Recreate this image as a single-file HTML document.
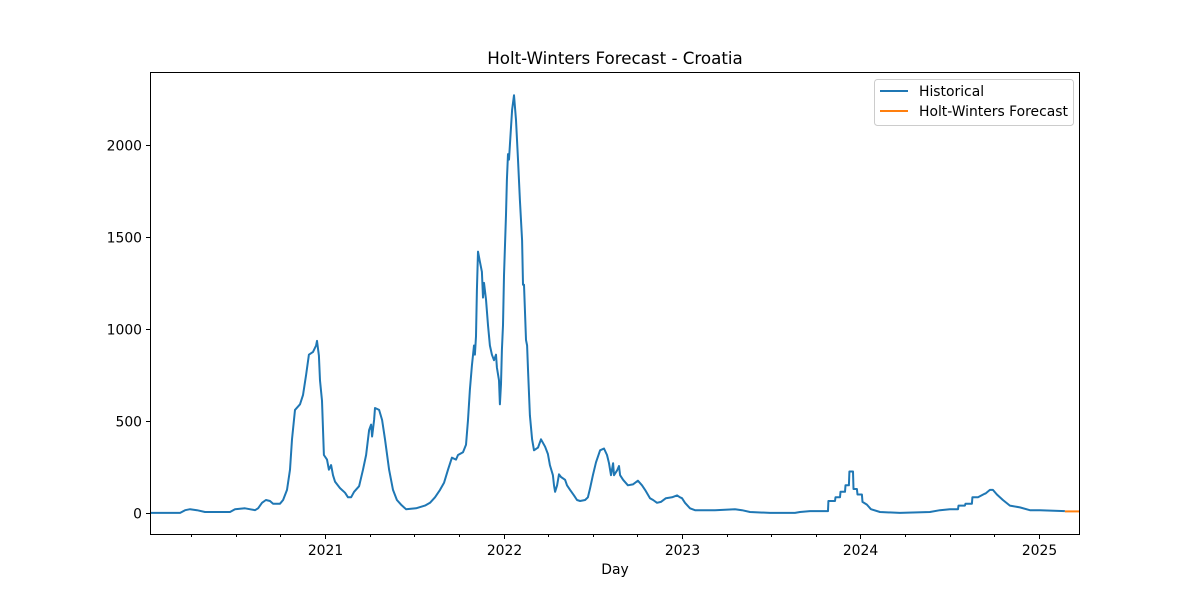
<!DOCTYPE html>
<html><head><meta charset="utf-8"><style>
body{margin:0;background:#fff;}
svg{display:block;font-family:"DejaVu Sans","Liberation Sans",sans-serif;}
</style></head><body>
<svg id="chart" width="1200" height="600">
<text x="615" y="64" text-anchor="middle" font-size="16.7">Holt-Winters Forecast - Croatia</text>
<text x="615" y="574" text-anchor="middle" font-size="13.9">Day</text>
<g id="axes"></g>
<g id="marks"></g>
<rect x="150.5" y="72.5" width="929" height="462" fill="none" stroke="#000" stroke-width="1"/>
<g>
<rect x="874.5" y="79.5" width="199" height="46" rx="3" fill="#fff" stroke="#ccc"/>
<line x1="880" y1="91" x2="908" y2="91" stroke="#1f77b4" stroke-width="2"/>
<text x="919" y="96" font-size="13.9">Historical</text>
<line x1="880" y1="111" x2="908" y2="111" stroke="#ff7f0e" stroke-width="2"/>
<text x="919" y="116" font-size="13.9">Holt-Winters Forecast</text>
</g>
</svg>
<script>
const histDates=[2020.020,2020.188,2020.216,2020.244,2020.283,2020.328,2020.468,2020.496,2020.552,2020.608,2020.625,2020.647,2020.669,2020.692,2020.709,2020.748,2020.765,2020.787,2020.804,2020.815,2020.832,2020.860,2020.877,2020.894,2020.910,2020.933,2020.950,2020.955,2020.966,2020.972,2020.983,2020.994,2021.011,2021.022,2021.034,2021.045,2021.056,2021.084,2021.112,2021.129,2021.146,2021.163,2021.191,2021.213,2021.230,2021.247,2021.258,2021.264,2021.275,2021.280,2021.303,2021.320,2021.336,2021.359,2021.381,2021.403,2021.426,2021.454,2021.510,2021.560,2021.588,2021.616,2021.644,2021.667,2021.689,2021.711,2021.734,2021.745,2021.773,2021.790,2021.801,2021.812,2021.823,2021.835,2021.840,2021.846,2021.851,2021.857,2021.868,2021.879,2021.885,2021.891,2021.902,2021.913,2021.924,2021.935,2021.947,2021.958,2021.963,2021.975,2021.980,2021.986,2021.991,2021.997,2022.003,2022.014,2022.019,2022.025,2022.031,2022.036,2022.048,2022.059,2022.070,2022.081,2022.092,2022.104,2022.109,2022.115,2022.126,2022.132,2022.137,2022.148,2022.160,2022.171,2022.193,2022.210,2022.233,2022.249,2022.260,2022.277,2022.283,2022.289,2022.300,2022.311,2022.322,2022.345,2022.356,2022.373,2022.395,2022.412,2022.429,2022.457,2022.473,2022.485,2022.501,2022.518,2022.541,2022.563,2022.580,2022.591,2022.602,2022.614,2022.619,2022.636,2022.647,2022.653,2022.670,2022.697,2022.725,2022.753,2022.776,2022.793,2022.821,2022.838,2022.860,2022.882,2022.910,2022.944,2022.972,2022.989,2023.000,2023.017,2023.045,2023.073,2023.185,2023.297,2023.336,2023.381,2023.493,2023.633,2023.661,2023.717,2023.801,2023.818,2023.820,2023.857,2023.860,2023.885,2023.888,2023.913,2023.916,2023.935,2023.938,2023.958,2023.961,2023.980,2023.983,2024.008,2024.011,2024.036,2024.058,2024.109,2024.221,2024.389,2024.445,2024.501,2024.546,2024.549,2024.585,2024.588,2024.624,2024.627,2024.658,2024.697,2024.700,2024.725,2024.742,2024.764,2024.798,2024.837,2024.893,2024.949,2025.005,2025.145];
const histValues=[0,0,15,20,15,5,5,20,25,15,25,55,70,65,50,50,70,125,235,400,560,590,640,750,860,875,910,935,855,720,610,315,290,235,260,205,170,135,110,85,85,115,145,235,315,450,480,415,505,570,560,505,400,235,125,70,45,20,25,40,55,85,125,165,235,300,290,315,330,370,505,670,800,910,860,960,1210,1420,1365,1310,1170,1250,1160,1020,910,860,830,860,790,720,590,700,885,1020,1290,1620,1810,1950,1920,2000,2190,2270,2135,1920,1700,1480,1240,1240,940,910,780,530,400,340,355,400,360,320,260,205,150,115,150,210,195,180,150,125,95,70,65,70,85,135,205,275,340,350,315,270,205,270,205,230,255,205,180,150,155,175,150,125,80,70,55,60,80,85,95,85,80,55,25,15,15,20,15,5,0,0,5,10,10,10,65,65,85,85,115,115,150,150,225,225,130,130,100,100,60,45,20,5,0,5,15,20,20,40,40,50,50,85,85,105,105,125,125,100,70,40,30,15,15,10,8];
const fcDates=[2025.145,2025.229];
const fcValues=[8,8];
const xTicks=[2021,2022,2023,2024,2025];
const yTicks=[0,500,1000,1500,2000];

const X0=150,X1=1080,Y0=535,Y1=72;
const xMin=2020.0196,xMax=2025.2297,yMin=-120,yMax=2396;
const sx=v=>X0+(v-xMin)/(xMax-xMin)*(X1-X0);
const sy=v=>Y0-(v-yMin)/(yMax-yMin)*(Y0-Y1);
const NS='http://www.w3.org/2000/svg';
const axes=document.getElementById('axes'),marks=document.getElementById('marks');
function mk(tag,attrs,parent){const e=document.createElementNS(NS,tag);for(const k in attrs)e.setAttribute(k,attrs[k]);parent.appendChild(e);return e;}
yTicks.forEach(v=>{
  const y=Math.round(sy(v))+0.5;
  const t=mk('line',{x1:146,x2:150,y1:y,y2:y,stroke:'#000'},axes);
  
  
  const l=mk('text',{x:142,y:y+5,'text-anchor':'end','font-size':13.9},axes);
  l.textContent=v;
  
  
});
for(let q=2020.25;q<xMax;q+=0.25){
  if(Math.abs(q-Math.round(q))<0.01)continue;
  const x=Math.round(sx(q))+0.5;
  const t=mk('line',{x1:x,x2:x,y1:535,y2:537,stroke:'#000'},axes);
  
  
}
xTicks.forEach(v=>{
  const x=Math.round(sx(v))+0.5;
  const t=mk('line',{x1:x,x2:x,y1:535,y2:539,stroke:'#000'},axes);
  
  
  const l=mk('text',{x:x,y:555,'text-anchor':'middle','font-size':13.9},axes);
  l.textContent=v;
  
  
});
const hp=mk('polyline',{points:histDates.map((d,i)=>sx(d).toFixed(1)+','+sy(histValues[i]).toFixed(1)).join(' '),fill:'none',stroke:'#1f77b4','stroke-width':2,'stroke-linejoin':'round'},marks);


const fp=mk('polyline',{points:fcDates.map((d,i)=>sx(d).toFixed(1)+','+sy(fcValues[i]).toFixed(1)).join(' '),fill:'none',stroke:'#ff7f0e','stroke-width':2},marks);


</script>
</body></html>
